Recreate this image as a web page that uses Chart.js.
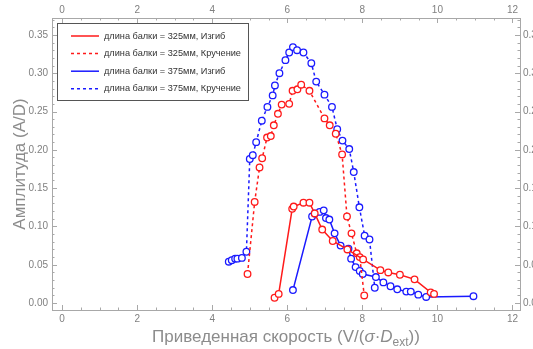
<!DOCTYPE html>
<html>
<head>
<meta charset="utf-8">
<script src="https://cdn.jsdelivr.net/npm/chart.js@4/dist/chart.umd.min.js"></script>
<style>
  html, body { margin: 0; padding: 0; background: #fff; }
  #wrap { position: relative; width: 533px; height: 349px; }
</style>
</head>
<body>
<div id="wrap"><canvas id="chart"></canvas></div>
<script>
// tick labels
const xTicks = [0, 2, 4, 6, 8, 10, 12];
const yTicks = [0, 0.05, 0.10, 0.15, 0.20, 0.25, 0.30, 0.35];

// длина балки = 325мм, Изгиб
const bend325X = [5.66, 5.77, 6.13, 6.17, 6.43, 6.59, 6.73, 6.93, 7.21, 7.60, 8.02, 8.48, 8.69, 9.00, 9.39, 9.82, 9.91];
const bend325Y = [0.007, 0.012, 0.123, 0.126, 0.131, 0.131, 0.117, 0.096, 0.081, 0.070, 0.057, 0.043, 0.040, 0.037, 0.031, 0.014, 0.012];

// длина балки = 325мм, Кручение
const tors325X = [4.94, 5.13, 5.26, 5.33, 5.46, 5.56, 5.64, 5.75, 5.85, 6.05, 6.14, 6.27, 6.37, 6.59, 6.99, 7.13, 7.29, 7.46, 7.59, 7.71, 7.85, 7.93, 8.05];
const tors325Y = [0.038, 0.132, 0.177, 0.189, 0.216, 0.218, 0.232, 0.247, 0.259, 0.260, 0.277, 0.279, 0.285, 0.277, 0.241, 0.232, 0.221, 0.194, 0.113, 0.091, 0.065, 0.060, 0.010];

// длина балки = 375мм, Изгиб
const bend375X = [6.15, 6.66, 6.73, 6.86, 6.97, 7.03, 7.12, 7.26, 7.42, 7.63, 7.70, 7.82, 7.93, 8.01, 8.36, 8.56, 8.75, 8.93, 9.17, 9.29, 9.49, 9.70, 10.96];
const bend375Y = [0.017, 0.113, 0.117, 0.119, 0.121, 0.111, 0.109, 0.091, 0.075, 0.071, 0.058, 0.047, 0.042, 0.038, 0.034, 0.027, 0.022, 0.018, 0.015, 0.015, 0.011, 0.008, 0.009];

// длина балки = 375мм, Кручение
const tors375X = [4.44, 4.52, 4.61, 4.67, 4.79, 4.91, 5.00, 5.08, 5.17, 5.32, 5.47, 5.61, 5.67, 5.79, 5.95, 6.05, 6.15, 6.26, 6.43, 6.64, 6.77, 6.99, 7.19, 7.33, 7.47, 7.65, 7.77, 7.92, 8.06, 8.19, 8.33];
const tors375Y = [0.054, 0.056, 0.058, 0.058, 0.059, 0.067, 0.188, 0.193, 0.210, 0.238, 0.256, 0.271, 0.284, 0.300, 0.317, 0.327, 0.334, 0.330, 0.327, 0.313, 0.289, 0.272, 0.256, 0.227, 0.212, 0.201, 0.171, 0.125, 0.088, 0.083, 0.020];

const RED = '#ff1a1a';
const BLUE = '#1a1aff';
const FONT = '"Liberation Sans", Arial, sans-serif';

function pts(xs, ys) {
    return xs.map((x, i) => ({ x: x, y: ys[i] }));
}

function series(label, xs, ys, color, dashed) {
    return {
        label: label,
        data: pts(xs, ys),
        borderColor: color,
        backgroundColor: color,
        borderWidth: 1.5,
        borderDash: dashed ? [3, 3] : [],
        pointRadius: 3.3,
        pointBorderWidth: 1.3,
        pointBackgroundColor: '#fff',
        pointBorderColor: color,
        tension: 0
    };
}

const datasets = [
    series('длина балки = 325мм, Изгиб', bend325X, bend325Y, RED, false),
    series('длина балки = 325мм, Кручение', tors325X, tors325Y, RED, true),
    series('длина балки = 375мм, Изгиб', bend375X, bend375Y, BLUE, false),
    series('длина балки = 375мм, Кручение', tors375X, tors375Y, BLUE, true)
];

// frame with inward major/minor ticks on all four sides
const framePlugin = {
    id: 'frame',
    beforeDatasetsDraw(chart) {
        const { ctx, chartArea: a, scales } = chart;
        ctx.save();
        ctx.strokeStyle = '#a8a8a8';
        ctx.lineWidth = 1;
        ctx.strokeRect(a.left + 0.5, a.top + 0.5, a.right - a.left, a.bottom - a.top);
        ctx.beginPath();
        for (let v = 0; v <= 12.001; v += 0.5) {
            const px = Math.round(scales.x.getPixelForValue(v)) + 0.5;
            const len = Math.abs(v % 2) < 1e-6 ? 5 : 2.5;
            ctx.moveTo(px, a.bottom); ctx.lineTo(px, a.bottom - len);
            ctx.moveTo(px, a.top); ctx.lineTo(px, a.top + len);
        }
        for (let k = 0; k <= 37; k++) {
            const v = k / 100;
            const py = Math.round(scales.y.getPixelForValue(v)) + 0.5;
            const len = k % 5 === 0 ? 5 : 2.5;
            ctx.moveTo(a.left, py); ctx.lineTo(a.left + len, py);
            ctx.moveTo(a.right, py); ctx.lineTo(a.right - len, py);
        }
        ctx.stroke();
        ctx.restore();
    }
};

// legend box and axis titles
const decorPlugin = {
    id: 'decor',
    afterDraw(chart) {
        const { ctx, chartArea: a } = chart;
        ctx.save();

        // legend
        const bx = 57, by = 23, bw = 191, bh = 77;
        ctx.fillStyle = '#fff';
        ctx.fillRect(bx, by, bw, bh);
        ctx.strokeStyle = '#555';
        ctx.lineWidth = 1;
        ctx.strokeRect(bx + 0.5, by + 0.5, bw, bh);
        chart.data.datasets.forEach((ds, i) => {
            const y = 36 + i * 17.6;
            ctx.strokeStyle = ds.borderColor;
            ctx.lineWidth = 1.5;
            ctx.setLineDash(ds.borderDash);
            ctx.beginPath();
            ctx.moveTo(71, y); ctx.lineTo(99, y);
            ctx.stroke();
            ctx.setLineDash([]);
            ctx.fillStyle = '#333';
            ctx.font = '9.2px ' + FONT;
            ctx.textBaseline = 'middle';
            ctx.textAlign = 'left';
            ctx.fillText(ds.label, 104, y);
        });

        // y title
        ctx.fillStyle = '#8c8c8c';
        ctx.font = '17px ' + FONT;
        ctx.textAlign = 'center';
        ctx.textBaseline = 'middle';
        ctx.save();
        ctx.translate(20, (a.top + a.bottom) / 2);
        ctx.rotate(-Math.PI / 2);
        ctx.fillText('Амплитуда (A/D)', 0, 0);
        ctx.restore();

        // x title with italic sigma and subscript
        const parts = [
            { t: 'Приведенная скорость (V/(', f: '17px ' + FONT, dy: 0 },
            { t: 'σ', f: 'italic 17px ' + FONT, dy: 0 },
            { t: '·', f: '17px ' + FONT, dy: 0 },
            { t: 'D', f: 'italic 17px ' + FONT, dy: 0 },
            { t: 'ext', f: '12px ' + FONT, dy: 4 },
            { t: '))', f: '17px ' + FONT, dy: 0 }
        ];
        let total = 0;
        parts.forEach((p) => { ctx.font = p.f; p.w = ctx.measureText(p.t).width; total += p.w; });
        let x = (a.left + a.right) / 2 - total / 2;
        ctx.textAlign = 'left';
        ctx.textBaseline = 'alphabetic';
        parts.forEach((p) => {
            ctx.font = p.f;
            ctx.fillText(p.t, x, 342 + p.dy);
            x += p.w;
        });
        ctx.restore();
    }
};

const tickFont = { family: FONT, size: 10 };
const tickColor = '#808080';
const noGrid = { display: false, drawTicks: false, tickLength: 0 };

function xScale(position, h, pad) {
    return {
        type: 'linear',
        position: position,
        min: -0.27,
        max: 12.2,
        grid: noGrid,
        border: { display: false },
        afterBuildTicks: (s) => { s.ticks = xTicks.map((v) => ({ value: v })); },
        afterFit: (s) => { s.height = h; },
        ticks: { font: tickFont, color: tickColor, padding: pad, maxRotation: 0,
                 callback: (v) => String(v) }
    };
}

function yScale(position, w, pad) {
    return {
        type: 'linear',
        position: position,
        min: -0.009,
        max: 0.372,
        grid: noGrid,
        border: { display: false },
        afterBuildTicks: (s) => { s.ticks = yTicks.map((v) => ({ value: v })); },
        afterFit: (s) => { s.width = w; },
        ticks: { font: tickFont, color: tickColor, padding: pad,
                 callback: (v) => Number(v).toFixed(2) }
    };
}

new Chart(document.getElementById('chart'), {
    type: 'line',
    data: { datasets: datasets },
    options: {
        responsive: true,
        maintainAspectRatio: false,
        animation: false,
        layout: { padding: 0 },
        plugins: { legend: { display: false }, tooltip: { enabled: false } },
        scales: {
            x: xScale('bottom', 39, 3),
            x2: xScale('top', 18, 2),
            y: yScale('left', 52, 4),
            y2: yScale('right', 13, 3)
        }
    },
    plugins: [framePlugin, decorPlugin]
});
</script>
</body>
</html>
